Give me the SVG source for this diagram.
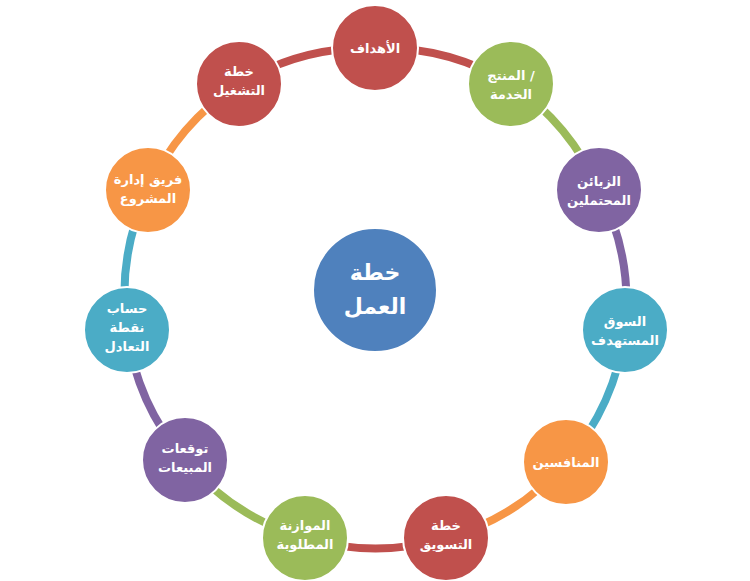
<svg xmlns="http://www.w3.org/2000/svg" width="750" height="581" viewBox="0 0 750 581">
<style>
.c{stroke:#fff;stroke-width:2}
.t{fill:#fff;font-family:"DejaVu Sans",sans-serif;font-size:13px;font-weight:bold;text-anchor:middle}
.a{fill:none;stroke-width:8}
</style>
<rect width="750" height="581" fill="#fff"/>
<g id="connectors">
<path class="a" stroke="#C0504D" d="M375,48 A247,247 0 0 1 511,84"/>
<path class="a" stroke="#9BBB59" d="M511,84 A247,247 0 0 1 599,190"/>
<path class="a" stroke="#8064A2" d="M599,190 A247,247 0 0 1 625,330"/>
<path class="a" stroke="#4BACC6" d="M625,330 A247,247 0 0 1 566,462"/>
<path class="a" stroke="#F79646" d="M566,462 A247,247 0 0 1 446,538"/>
<path class="a" stroke="#C0504D" d="M446,538 A247,247 0 0 1 305,538"/>
<path class="a" stroke="#9BBB59" d="M305,538 A247,247 0 0 1 185,460"/>
<path class="a" stroke="#8064A2" d="M185,460 A247,247 0 0 1 127,330"/>
<path class="a" stroke="#4BACC6" d="M127,330 A247,247 0 0 1 148,190"/>
<path class="a" stroke="#F79646" d="M148,190 A247,247 0 0 1 239,84"/>
<path class="a" stroke="#C0504D" d="M239,84 A247,247 0 0 1 375,48"/>
</g>
<g id="center"><circle class="c" cx="375" cy="290" r="62" fill="#4F81BD"/><text class="t" x="375" y="280" style="font-size:22px">خطة</text><text class="t" x="375" y="314" style="font-size:22px">العمل</text></g>
<g id="n1"><circle class="c" cx="375" cy="48" r="43" fill="#C0504D"/><text class="t" x="375" y="53">الأهداف</text></g>
<g id="n2"><circle class="c" cx="511" cy="84" r="43" fill="#9BBB59"/><text class="t" x="511" y="80">المنتج /</text><text class="t" x="511" y="99">الخدمة</text></g>
<g id="n3"><circle class="c" cx="599" cy="190" r="43" fill="#8064A2"/><text class="t" x="599" y="186">الزبائن</text><text class="t" x="599" y="205">المحتملين</text></g>
<g id="n4"><circle class="c" cx="625" cy="330" r="43" fill="#4BACC6"/><text class="t" x="625" y="326">السوق</text><text class="t" x="625" y="345">المستهدف</text></g>
<g id="n5"><circle class="c" cx="566" cy="462" r="43" fill="#F79646"/><text class="t" x="566" y="467">المنافسين</text></g>
<g id="n6"><circle class="c" cx="446" cy="538" r="43" fill="#C0504D"/><text class="t" x="446" y="530">خطة</text><text class="t" x="446" y="549">التسويق</text></g>
<g id="n7"><circle class="c" cx="305" cy="538" r="43" fill="#9BBB59"/><text class="t" x="305" y="530">الموازنة</text><text class="t" x="305" y="549">المطلوبة</text></g>
<g id="n8"><circle class="c" cx="185" cy="460" r="43" fill="#8064A2"/><text class="t" x="185" y="453">توقعات</text><text class="t" x="185" y="472">المبيعات</text></g>
<g id="n9"><circle class="c" cx="127" cy="330" r="43" fill="#4BACC6"/><text class="t" x="127" y="313">حساب</text><text class="t" x="127" y="332">نقطة</text><text class="t" x="127" y="351">التعادل</text></g>
<g id="n10"><circle class="c" cx="148" cy="190" r="43" fill="#F79646"/><text class="t" x="148" y="184">فريق إدارة</text><text class="t" x="148" y="203">المشروع</text></g>
<g id="n11"><circle class="c" cx="239" cy="84" r="43" fill="#C0504D"/><text class="t" x="239" y="76">خطة</text><text class="t" x="239" y="95">التشغيل</text></g>
</svg>
